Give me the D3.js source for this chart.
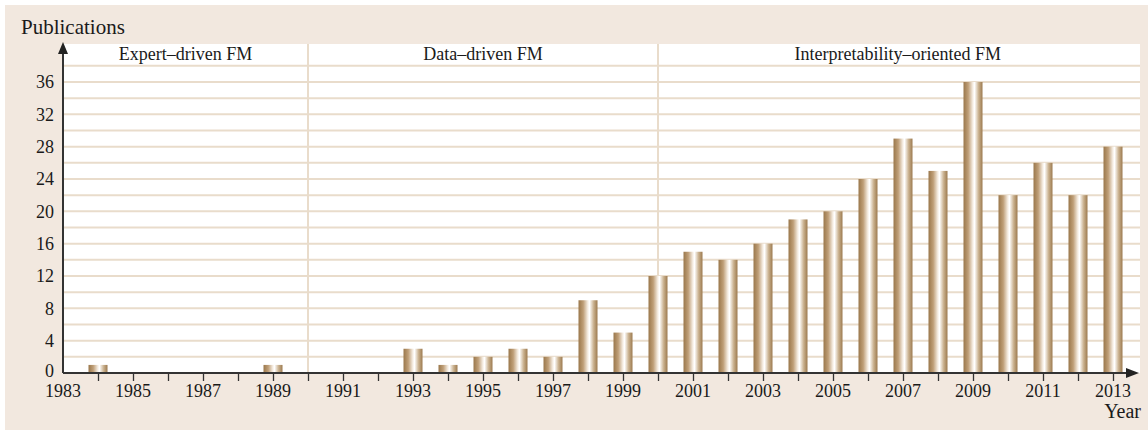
<!DOCTYPE html>
<html>
<head>
<meta charset="utf-8">
<script src="https://cdnjs.cloudflare.com/ajax/libs/d3/7.8.5/d3.min.js"></script>
<style>
  body { margin: 0; background: #ffffff; }
  svg { display: block; font-family: "Liberation Serif", "DejaVu Serif", serif; }
</style>
</head>
<body>
<script>
// DATA
const years = [1984, 1985, 1986, 1987, 1988, 1989, 1990, 1991, 1992, 1993, 1994, 1995, 1996, 1997, 1998, 1999,
               2000, 2001, 2002, 2003, 2004, 2005, 2006, 2007, 2008, 2009, 2010, 2011, 2012, 2013]
const publications = [1, 0, 0, 0, 0, 1, 0, 0, 0, 3, 1, 2, 3, 2, 9, 5,
                      12, 15, 14, 16, 19, 20, 24, 29, 25, 36, 22, 26, 22, 28]
const yTicks = [0, 4, 8, 12, 16, 20, 24, 28, 32, 36]
const xTickLabels = [1983, 1985, 1987, 1989, 1991, 1993, 1995, 1997, 1999, 2001, 2003, 2005, 2007, 2009, 2011, 2013]
const phases = [
    { label: "Expert\u2013driven FM", from: 1983, to: 1990 },
    { label: "Data\u2013driven FM", from: 1990, to: 2000 },
    { label: "Interpretability\u2013oriented FM", from: 2000, to: 2013.7 }
]

//USEFUL VARIABLES
const svgwidth = 1148
const svgheight = 430
const plot = { left: 63, right: 1140, top: 44, bottom: 373 }

const svg = d3.select("body").append("svg")
    .attr("width", svgwidth)
    .attr("height", svgheight)

//BACKGROUND PANEL
svg.append("rect")
    .attr("x", 5).attr("y", 5)
    .attr("width", svgwidth - 5).attr("height", svgheight - 5)
    .attr("fill", "#f2e8df")

svg.append("rect")
    .attr("x", plot.left).attr("y", plot.top)
    .attr("width", plot.right - plot.left).attr("height", plot.bottom - plot.top)
    .attr("fill", "#ffffff")

//SCALES
const X = d3.scaleLinear().domain([1983, 2013]).range([plot.left, 1113])
const Y = d3.scaleLinear().domain([0, 36]).range([plot.bottom, 82])

//GRADIENT FOR BARS
const grad = svg.append("defs").append("linearGradient")
    .attr("id", "barGrad")
    .attr("x1", "0%").attr("x2", "100%").attr("y1", "0%").attr("y2", "0%")
const stops = [[0, "#9a774b"], [0.25, "#bf9f78"], [0.5, "#f8f1e8"], [0.58, "#ffffff"], [0.8, "#c9b08d"], [1, "#9c7a4f"]]
grad.selectAll("stop").data(stops).enter().append("stop")
    .attr("offset", d => d[0])
    .attr("stop-color", d => d[1])

//GRID LINES EVERY 2 UNITS
const gridVals = d3.range(2, 40, 2)
svg.append("g").selectAll("line").data(gridVals).enter().append("line")
    .attr("x1", plot.left).attr("x2", plot.right)
    .attr("y1", d => Y(d)).attr("y2", d => Y(d))
    .attr("stroke", "#e9dccb")
    .attr("stroke-width", 2)

//PHASE SEPARATORS
svg.append("g").selectAll("line").data([1990, 2000]).enter().append("line")
    .attr("x1", d => X(d)).attr("x2", d => X(d))
    .attr("y1", plot.top).attr("y2", plot.bottom)
    .attr("stroke", "#e9dccb")
    .attr("stroke-width", 2)

//PHASE LABELS
svg.append("g").selectAll("text").data(phases).enter().append("text")
    .attr("x", d => (X(d.from) + X(d.to)) / 2)
    .attr("y", 60)
    .attr("text-anchor", "middle")
    .attr("font-size", 18)
    .attr("fill", "#1a1a1a")
    .text(d => d.label)

//BARS
const barW = 19
svg.append("g").selectAll("rect").data(years).enter()
    .filter((d, i) => publications[i] > 0)
    .append("rect")
    .attr("x", d => X(d) - barW / 2)
    .attr("width", barW)
    .attr("y", d => Y(publications[years.indexOf(d)]))
    .attr("height", d => plot.bottom - Y(publications[years.indexOf(d)]))
    .attr("fill", "url(#barGrad)")

//Y AXIS
const yaxis = svg.append("g")
    .attr("transform", `translate(${plot.left}, 0)`)
    .call(d3.axisLeft(Y).tickValues(yTicks).tickSize(0).tickPadding(9))
yaxis.select(".domain").remove()
yaxis.selectAll("text").attr("font-size", 18).attr("fill", "#1a1a1a").attr("font-family", "Liberation Serif")
yaxis.selectAll(".tick").filter(d => d === 0).select("text").attr("dy", "0.22em")
svg.append("line")
    .attr("x1", plot.left).attr("x2", plot.left)
    .attr("y1", plot.bottom).attr("y2", 52)
    .attr("stroke", "#333").attr("stroke-width", 2)
svg.append("path")
    .attr("d", `M${plot.left - 5},${54} L${plot.left},${42} L${plot.left + 5},${54} Z`)
    .attr("fill", "#222")

//X AXIS
const xaxis = svg.append("g")
    .attr("transform", `translate(0, ${plot.bottom})`)
    .call(d3.axisBottom(X).tickValues(d3.range(1983, 2014)).tickSize(8).tickFormat(""))
xaxis.select(".domain").remove()
xaxis.selectAll("line").attr("stroke", "#333").attr("stroke-width", 1.3)
xaxis.selectAll(".tick").filter(d => d === 1983).remove()
svg.append("g").selectAll("text").data(xTickLabels).enter().append("text")
    .attr("x", d => X(d))
    .attr("y", 397)
    .attr("text-anchor", "middle")
    .attr("font-size", 18)
    .attr("fill", "#1a1a1a")
    .text(d => d)
svg.append("line")
    .attr("x1", plot.left).attr("x2", 1128)
    .attr("y1", plot.bottom).attr("y2", plot.bottom)
    .attr("stroke", "#333").attr("stroke-width", 2)
svg.append("path")
    .attr("d", `M${1126},${plot.bottom - 5} L${1139},${plot.bottom} L${1126},${plot.bottom + 5} Z`)
    .attr("fill", "#222")

//AXIS TITLES
svg.append("text")
    .attr("x", 21).attr("y", 34)
    .attr("font-size", 21)
    .attr("fill", "#1a1a1a")
    .text("Publications")
svg.append("text")
    .attr("x", 1141).attr("y", 418)
    .attr("text-anchor", "end")
    .attr("font-size", 20)
    .attr("fill", "#1a1a1a")
    .text("Year")
</script>
</body>
</html>
